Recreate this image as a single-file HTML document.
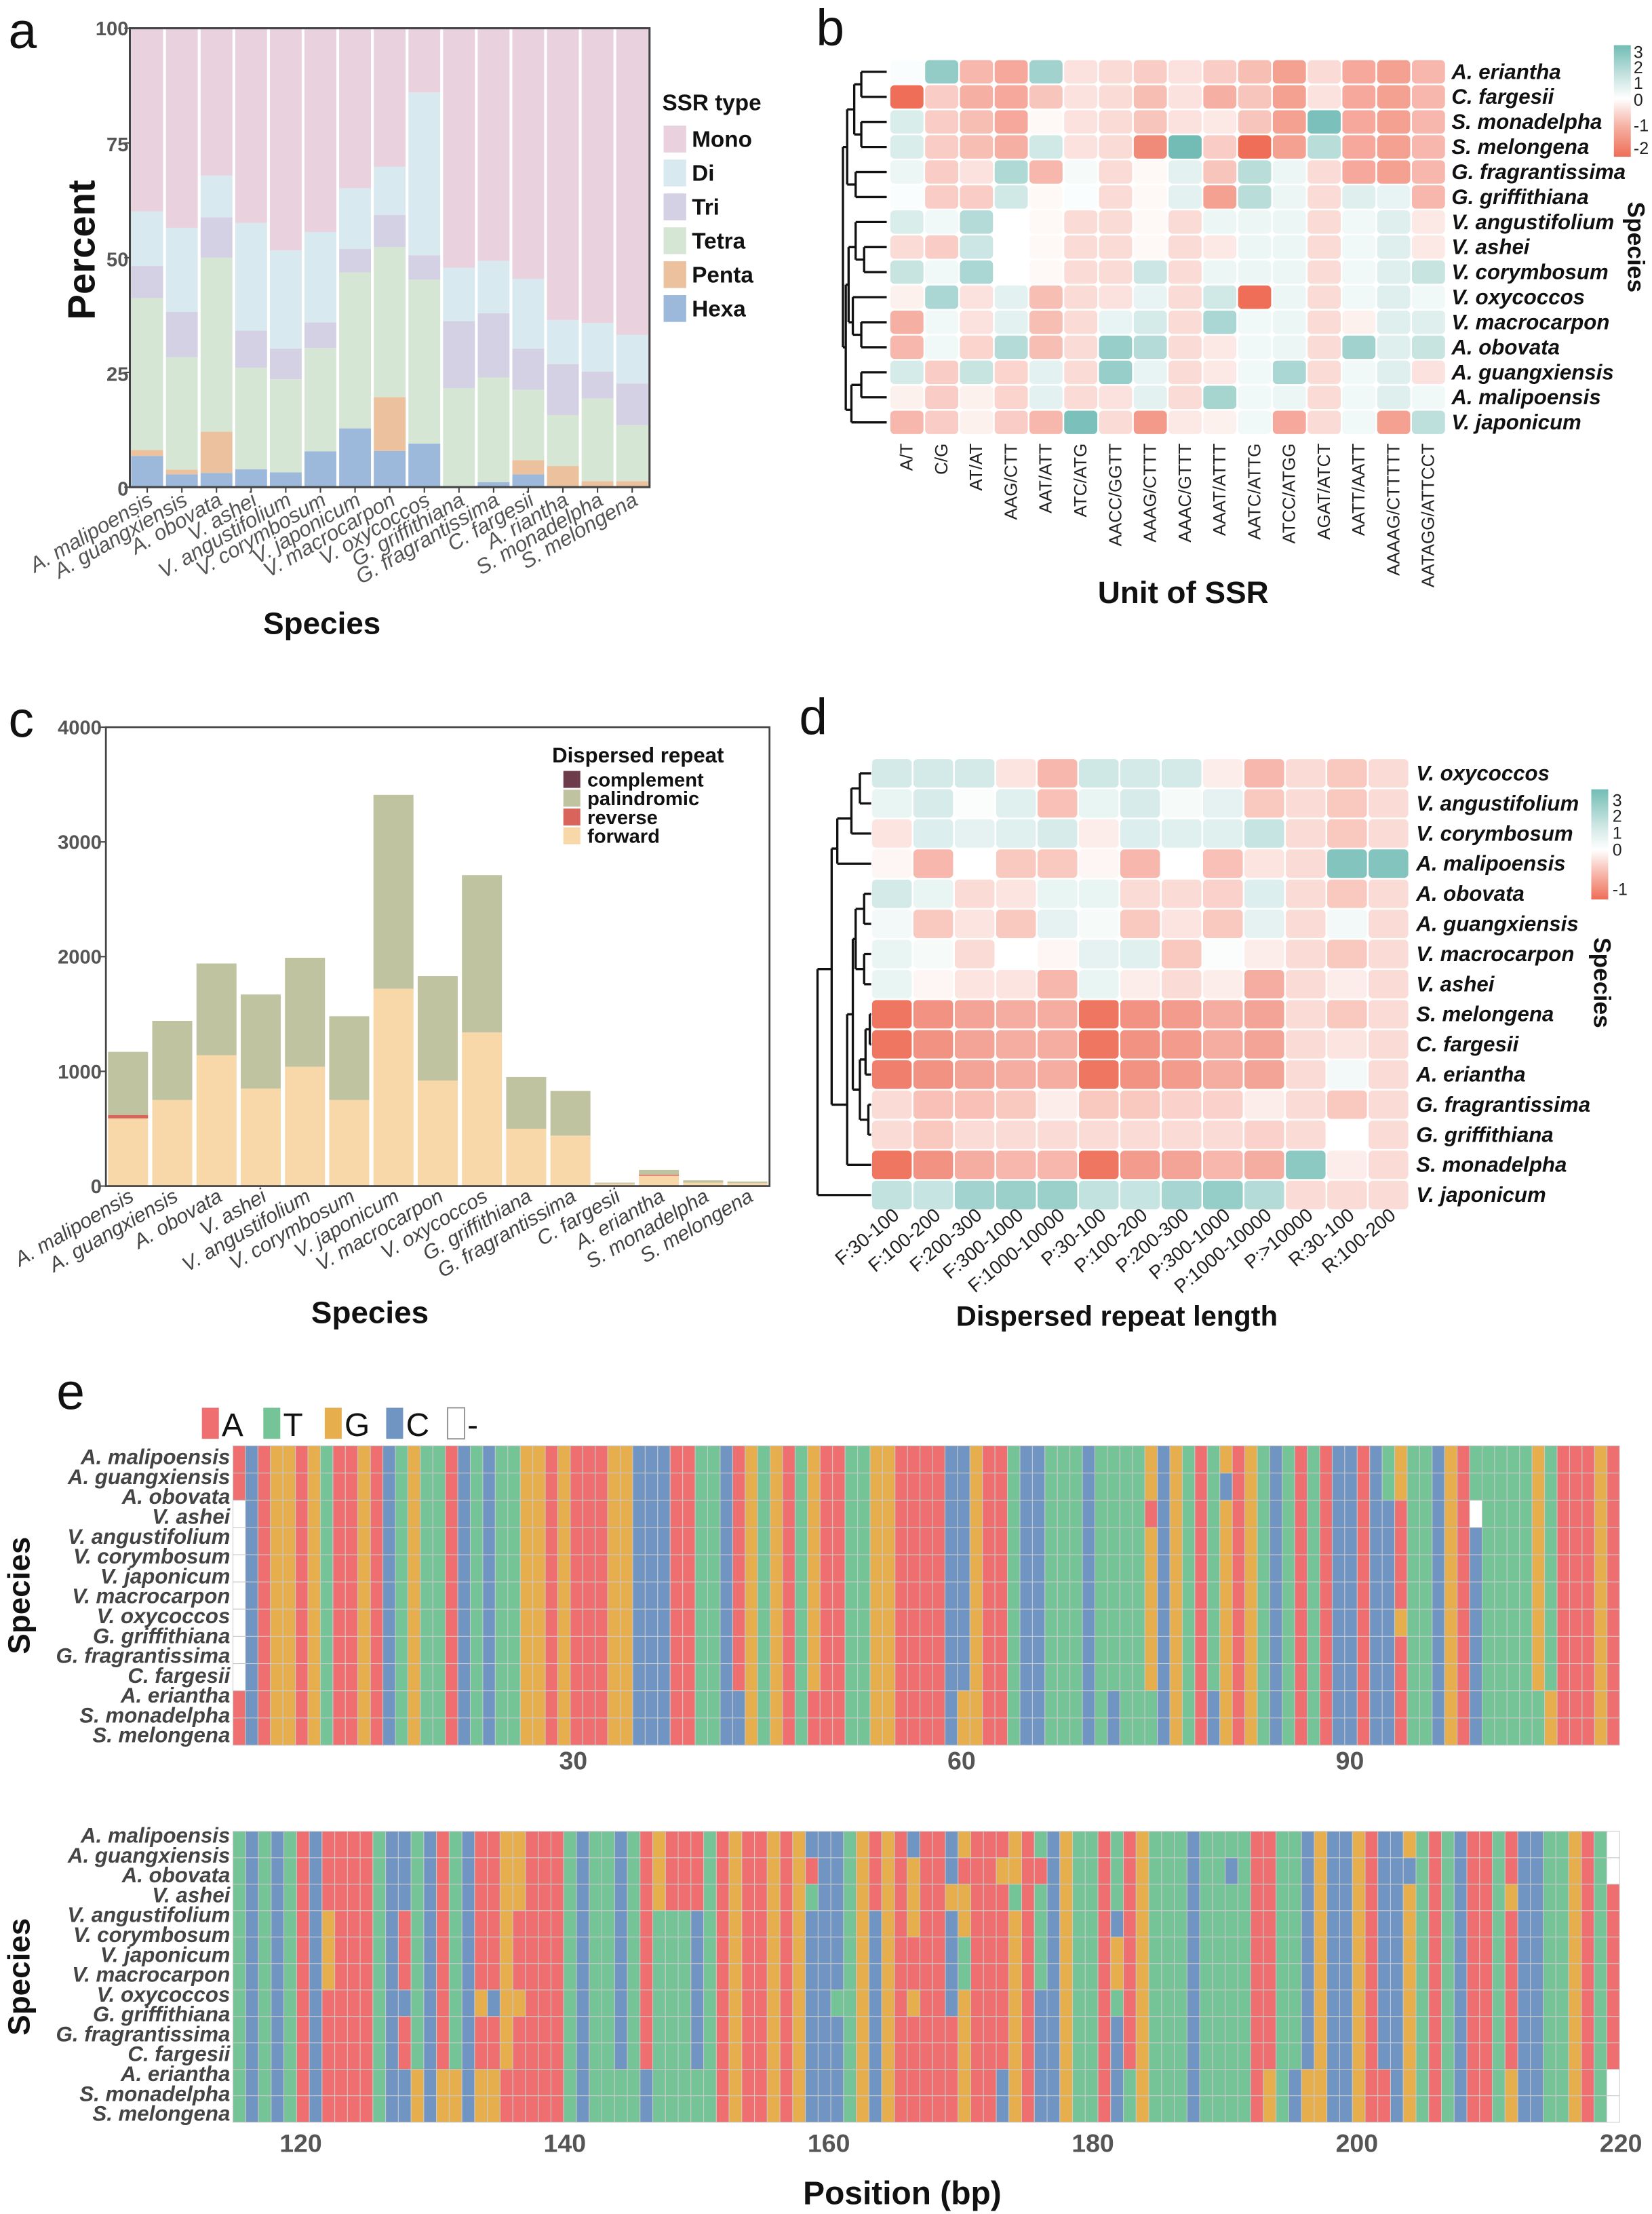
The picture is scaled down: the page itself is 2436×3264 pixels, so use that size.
<!DOCTYPE html>
<html><head><meta charset="utf-8"><title>SSR and dispersed repeat figure</title>
<style>
html,body{margin:0;padding:0;background:#fff;}
svg{display:block;}
text{font-family:"Liberation Sans",sans-serif;}
.nar{font-family:"Liberation Sans Narrow","Liberation Sans",sans-serif;}
</style></head>
<body>
<svg id="fig" xmlns="http://www.w3.org/2000/svg" width="2436" height="3264" viewBox="0 0 1170 1568" preserveAspectRatio="none"></svg>
<script>
// ---------- Panel a data ----------
const aSpecies = ["A. malipoensis","A. guangxiensis","A. obovata","V. ashei","V. angustifolium","V. corymbosum","V. japonicum","V. macrocarpon","V. oxycoccos","G. griffithiana","G. fragrantissima","C. fargesii","A. riantha","S. monadelpha","S. melongena"];
const aTypes = ["Hexa","Penta","Tetra","Tri","Di","Mono"];
const aHexa  = [6.8,2.8,3.1,3.9,3.2,7.8,12.8,7.9,9.5,0,1.1,2.8,0,0,0];
const aPenta = [1.3,1.0,9.0,0,0,0,0,11.7,0,0,0,3.1,4.6,1.3,1.3];
const aTetra = [33.1,24.5,37.9,22.1,20.3,22.5,34.0,32.7,35.7,21.6,22.8,15.3,11.1,18.0,12.2];
const aTri   = [7.0,9.9,8.8,8.1,6.7,5.6,5.1,7.0,5.3,14.6,14.0,9.0,11.1,5.9,9.1];
const aDi    = [11.9,18.3,9.1,23.5,21.4,19.7,13.2,10.5,35.5,11.6,11.4,15.2,9.6,10.6,10.6];
const aMono  = [39.9,43.5,32.1,42.4,48.4,44.4,34.9,30.2,14.0,52.2,50.7,54.6,63.6,64.2,66.8];
const aTicks = [0,25,50,75,100];
const aColors = {Mono:"#e9d1de",Di:"#d8e9ef",Tri:"#d5d1e4",Tetra:"#d6e6d5",Penta:"#ecc29e",Hexa:"#9cb8da"};

// ---------- Panel b data ----------
const bUnits = ["A/T","C/G","AT/AT","AAG/CTT","AAT/ATT","ATC/ATG","AACC/GGTT","AAAG/CTTT","AAAC/GTTT","AAAT/ATTT","AATC/ATTG","ATCC/ATGG","AGAT/ATCT","AATT/AATT","AAAAG/CTTTTT","AATAGG/ATTCCT"];
const bSpecies = ["A. eriantha","C. fargesii","S. monadelpha","S. melongena","G. fragrantissima","G. griffithiana","V. angustifolium","V. ashei","V. corymbosum","V. oxycoccos","V. macrocarpon","A. obovata","A. guangxiensis","A. malipoensis","V. japonicum"];
const bValues = [
[0.1,2.3,-1,-1.2,2,-0.4,-0.5,-0.7,-0.4,-0.7,-0.9,-1.3,-0.5,-1.2,-1.3,-1],
[-2,-0.7,-1.1,-1.2,-0.8,-0.4,-0.5,-0.9,-0.4,-1.1,-0.8,-1.3,-0.4,-1.2,-1.3,-1],
[0.8,-0.7,-0.9,-1.2,-0.1,-0.4,-0.5,-0.8,-0.4,-0.3,-0.8,-1.3,2.8,-1.2,-1.3,-1],
[0.8,-0.7,-0.9,-1.1,1,-0.4,-0.5,-1.6,3,-0.7,-2,-1.3,1.5,-1.2,-1.3,-1],
[0.4,-0.7,-0.4,1.7,-1,0.2,-0.5,-0.1,0.6,-0.8,1.5,0.4,-0.5,-1.2,-1.3,-1],
[0.1,-0.7,-0.7,1,-0.1,0.1,-0.5,-0.1,0.6,-1.3,1.5,0.4,-0.5,0.7,0.5,-1],
[0.8,0.3,1.6,0,-0.1,-0.5,-0.5,-0.1,-0.5,0.4,0.4,0.4,-0.5,0.3,0.7,-0.3],
[-0.5,-0.7,1.1,0,-0.1,-0.5,-0.5,-0.1,-0.5,-0.3,0.4,0.4,-0.5,0.3,0.7,-0.3],
[1.2,0.3,1.8,0,-0.1,-0.5,-0.5,1.1,-0.5,0.4,0.4,0.4,-0.5,0.3,0.7,1.2],
[-0.2,1.8,-0.4,0.6,-0.9,-0.5,-0.4,0.5,-0.5,1,-2,0.4,-0.5,0.3,0.7,0.3],
[-1.1,0.3,-0.4,0.6,-0.9,-0.5,0.5,0.9,-0.5,1.8,0.3,0.4,-0.5,-0.2,0.7,0.7],
[-1,0.3,-0.6,1.6,-0.9,-0.5,2.2,1.6,-0.5,-0.3,0.3,0.4,-0.5,2,0.7,1.2],
[0.9,-0.7,1.2,-0.6,0.6,-0.5,2.2,0.5,-0.5,-0.3,0.3,1.8,-0.5,0.3,0.7,-0.4],
[-0.2,-0.7,-0.2,-0.6,0.6,-0.5,-0.4,0.6,-0.5,1.9,0.3,0.4,-0.5,0.3,0.7,0.3],
[-1,-0.7,-0.2,-0.7,-1,2.8,-0.5,-1.4,-0.3,-0.2,0.3,-1.2,-0.5,0.3,-1.3,1.4]];
const bLegendTicks = [3,2,1,0,-1,-2];

// ---------- Panel c data ----------
const cSpecies = ["A. malipoensis","A. guangxiensis","A. obovata","V. ashei","V. angustifolium","V. corymbosum","V. japonicum","V. macrocarpon","V. oxycoccos","G. griffithiana","G. fragrantissima","C. fargesii","A. eriantha","S. monadelpha","S. melongena"];
const cForward     = [590,750,1140,850,1040,750,1720,920,1340,500,440,20,90,30,25];
const cReverse     = [30,0,0,0,0,0,0,0,0,0,0,0,10,0,0];
const cPalindromic = [550,690,800,820,950,730,1690,910,1370,450,390,10,40,20,15];
const cComplement  = [0,0,0,0,0,0,0,0,0,0,0,0,0,0,0];
const cTicks = [0,1000,2000,3000,4000];

// ---------- Panel d data ----------
const dCats = ["F:30-100","F:100-200","F:200-300","F:300-1000","F:1000-10000","P:30-100","P:100-200","P:200-300","P:300-1000","P:1000-10000","P:>10000","R:30-100","R:100-200"];
const dSpecies = ["V. oxycoccos","V. angustifolium","V. corymbosum","A. malipoensis","A. obovata","A. guangxiensis","V. macrocarpon","V. ashei","S. melongena","C. fargesii","A. eriantha","G. fragrantissima","G. griffithiana","S. monadelpha","V. japonicum"];
const dValues = [
[1,1,1,-0.3,-0.8,1.1,1,1,-0.2,-0.8,-0.4,-0.6,-0.4],
[0.5,0.9,0.1,0.7,-0.7,0.5,0.9,0.2,0.6,-0.6,-0.4,-0.6,-0.4],
[-0.3,0.8,0.6,0.7,0.9,-0.2,0.8,0.7,0.7,1.3,-0.4,-0.6,-0.4],
[-0.1,-0.8,0,-0.6,-0.6,-0.1,-0.8,0,-0.7,-0.3,-0.4,2.8,2.8],
[1,0.5,-0.4,-0.3,0.5,0.5,-0.4,-0.4,-0.5,0.8,-0.4,-0.6,-0.4],
[0.3,-0.6,-0.3,-0.6,0.6,0.2,-0.6,-0.3,-0.6,0.6,-0.4,0.3,-0.4],
[0.5,0.2,-0.4,0,-0.1,0.6,0.7,-0.6,0.1,-0.2,-0.4,-0.6,-0.4],
[0.5,-0.1,-0.3,-0.3,-0.8,0.5,-0.2,-0.4,-0.2,-0.9,-0.4,-0.2,-0.4],
[-1.5,-1.2,-1,-0.9,-0.9,-1.5,-1.2,-1.1,-0.9,-1,-0.4,-0.6,-0.4],
[-1.5,-1.2,-1,-0.9,-0.9,-1.5,-1.2,-1.1,-0.9,-1,-0.4,-0.3,-0.4],
[-1.4,-1.2,-1,-0.9,-0.9,-1.5,-1.2,-1.1,-0.9,-1,-0.4,0.3,-0.4],
[-0.4,-0.7,-0.7,-0.6,-0.2,-0.6,-0.6,-0.5,-0.5,-0.2,-0.4,-0.6,-0.4],
[-0.4,-0.6,-0.4,-0.4,-0.4,-0.4,-0.4,-0.4,-0.4,-0.5,-0.4,0,-0.4],
[-1.5,-1.2,-0.9,-0.8,-0.8,-1.5,-1.1,-1,-0.8,-0.9,2.6,-0.2,-0.4],
[1.4,1.3,2.1,2.3,2.3,1.4,1.3,2,2.4,1.7,-0.4,-0.4,-0.4]];
const dLegendTicks = [3,2,1,0,-1];

// ---------- Panel e data ----------
const eSpecies = ["A. malipoensis","A. guangxiensis","A. obovata","V. ashei","V. angustifolium","V. corymbosum","V. japonicum","V. macrocarpon","V. oxycoccos","G. griffithiana","G. fragrantissima","C. fargesii","A. eriantha","S. monadelpha","S. melongena"];
const eTopConsensus = "ACAGGAGTAAGACTGTTACTCTTGGAGAAAGGCCCAATTCAGTGATGAATTGGAAA"+"ACCGAATCCTTTCTTTTGCGTATGAGTCTATACCACTGTTCGATTTTTGTAAAGA";
const eBotConsensus = "TCTCTACAAAATCCTCATCAAGGAAATCTTCTAGAAATAGAAGAGCCCTGAGACA"+"ACGAAAGATCGTTATAGTTTCTTTTAATTCGCCGACCGTATCAATACCTTGAT-";
const eTopOverrides = [[2,8,0,"-"],[9,10,40,"C"],[9,10,46,"A"],[9,10,58,"G"],[1,1,79,"C"],[2,2,73,"A"],[9,10,73,"T"],[9,10,70,"C"],[9,10,78,"C"],[2,10,92,"C"],[2,5,93,"A"],[7,10,93,"A"],[2,2,99,"-"],[3,10,99,"C"],[9,10,104,"T"],[9,10,105,"G"]];
const eBotOverrides = [[1,1,45,"A"],[2,2,45,"T"],[1,3,53,"G"],[6,6,53,"G"],[4,5,53,"A"],[7,10,53,"A"],[3,10,50,"C"],[3,5,7,"G"],[3,5,13,"A"],[7,8,13,"A"],[9,10,21,"A"],[3,5,22,"A"],[7,10,22,"A"],[6,6,19,"G"],[9,10,19,"G"],[6,6,20,"C"],[9,10,20,"G"],[9,10,14,"G"],[9,10,16,"G"],[9,10,17,"G"],[9,10,30,"T"],[9,10,32,"C"],[3,10,33,"T"],[3,10,34,"T"],[3,10,35,"T"],[3,8,36,"C"],[9,10,36,"T"],[6,6,47,"T"],[2,8,108,"A"],
[1,1,57,"A"],[1,1,60,"G"],[1,1,63,"A"],[1,1,78,"C"],[1,1,92,"C"],[2,2,56,"G"],[2,2,61,"T"],[2,2,100,"G"],[3,3,69,"C"],[4,5,57,"T"],[4,5,69,"G"],[7,8,56,"A"],[7,8,63,"C"],[7,8,69,"C"],[6,6,63,"C"],[9,10,56,"A"],[9,10,60,"C"],[9,10,63,"C"],[9,10,69,"C"],[9,10,70,"T"],[9,10,81,"G"],[9,10,83,"C"],[9,10,84,"G"],[9,10,90,"A"],[9,10,100,"G"]];
const eTopTicks = [30,60,90];
const eBotTicks = [120,140,160,180,200,220];
const eBases = ["A","T","G","C","-"];
const eColors = {A:"#ef6f70",T:"#74c498",G:"#e6ae4d",C:"#7095c3","-":"#ffffff"};

// ---------- helpers ----------
const NS = "http://www.w3.org/2000/svg";
const svg = document.getElementById("fig");
function add(parent, tag, attrs){ const e=document.createElementNS(NS,tag); for(const k in attrs) e.setAttribute(k, attrs[k]); parent.appendChild(e); return e; }
function txt(parent, x, y, s, attrs){ const e=add(parent,"text",Object.assign({x:x,y:y},attrs||{})); e.textContent=s; return e; }
function grp(name){ const g=add(svg,"g",{}); 
  
  return g; }
function mix(c1,c2,t){ return "rgb("+c1.map((v,i)=>Math.round(v+(c2[i]-v)*t)).join(",")+")"; }
const TEAL=[114,188,181], RED=[238,110,88], WHITE=[255,255,255];
function heat(v,vmin,vmax){ if(v>=0) return mix(WHITE,TEAL,Math.min(1,v/vmax)); return mix(WHITE,RED,Math.min(1,v/vmin)); }

// ---------- panel labels ----------
[["a",6,34],["b",578,32],["c",6,522],["d",566,520],["e",40,998]].forEach(p=>{
  const t=txt(svg,p[1],p[2],p[0],{"font-size":36,fill:"#111"});
  
  
});

// ================= Panel a =================
(function(){
  const g=grp("panel-a-ssr-stacked-bar");
  const X0=92,X1=460,Y0=345,Y1=20;
  const step=(X1-X0)/aSpecies.length;
  const y=v=>Y0-(v/100)*(Y0-Y1);
  const series=[aHexa,aPenta,aTetra,aTri,aDi,aMono];
  aSpecies.forEach((s,i)=>{
    let cum=0;
    series.forEach((arr,k)=>{
      const v=arr[i]; if(v<=0) return;
      const r=add(g,"rect",{x:X0+i*step+1,y:y(cum+v),width:step-2,height:y(cum)-y(cum+v),fill:aColors[aTypes[k]]});
      
      
      cum+=v;
    });
    const cx=X0+(i+0.5)*step;
    const tk=add(g,"line",{x1:cx,x2:cx,y1:Y0,y2:Y0+4,stroke:"#444","stroke-width":1});
    
    
    const lb=txt(g,0,0,s,{"font-size":15,"font-style":"italic",fill:"#555","text-anchor":"end",transform:"translate("+(cx+5)+","+(Y0+12)+") rotate(-30)"});
    
    
  });
  const fr=add(g,"rect",{x:X0,y:Y1,width:X1-X0,height:Y0-Y1,fill:"none",stroke:"#444","stroke-width":1.5});
  
  
  aTicks.forEach(t=>{
    const l=add(g,"line",{x1:X0-4,x2:X0,y1:y(t),y2:y(t),stroke:"#444"});
    
    
    const tt=txt(g,X0-1,y(t)+(t==100?5:6),String(t),{"font-size":14,"font-weight":"bold",fill:"#555","text-anchor":"end",class:"nar"});
    
    
  });
  const yt=txt(g,0,0,"Percent",{"font-size":27,"font-weight":"bold",fill:"#111","text-anchor":"middle",transform:"translate(67,177) rotate(-90)"});
  
  
  const xt=txt(g,228,449,"Species",{"font-size":22,"font-weight":"bold",fill:"#111","text-anchor":"middle"});
  
  
  const lt=txt(g,469,78,"SSR type",{"font-size":16,"font-weight":"bold",fill:"#111",class:"nar"});
  
  
  ["Mono","Di","Tri","Tetra","Penta","Hexa"].forEach((t,i)=>{
    const yy=89+i*24;
    const sq=add(g,"rect",{x:470,y:yy,width:16,height:19,fill:aColors[t]});
    
    
    const lb=txt(g,490,yy+15,t,{"font-size":16,"font-weight":"bold",fill:"#111",class:"nar"});
    
    
  });
})();

// ================= Panel b =================
(function(){
  const g=grp("panel-b-ssr-heatmap");
  const X0=630,X1=1024,Y0=42,Y1=308;
  const cw=(X1-X0)/bUnits.length, rh=(Y1-Y0)/bSpecies.length;
  bValues.forEach((row,i)=>row.forEach((v,j)=>{
    const c=add(g,"rect",{x:X0+j*cw+0.6,y:Y0+i*rh+0.6,width:cw-1.2,height:rh-1.2,rx:3,fill:heat(v,-2,3)});
    
    
  }));
  bSpecies.forEach((s,i)=>{
    const t=txt(g,1028,Y0+(i+0.5)*rh+5,s,{"font-size":15,"font-weight":"bold","font-style":"italic",fill:"#111",class:"nar"});
    
    
  });
  bUnits.forEach((u,j)=>{
    const cx=X0+(j+0.5)*cw;
    const t=txt(g,0,0,u,{"font-size":12.5,fill:"#222","text-anchor":"end",class:"nar",transform:"translate("+(cx+4)+",314) rotate(-90)"});
    
    
  });
  const xt=txt(g,838,427,"Unit of SSR",{"font-size":22,"font-weight":"bold",fill:"#111","text-anchor":"middle"});
  
  
  const st=txt(g,0,0,"Species",{"font-size":17,"font-weight":"bold",fill:"#111","text-anchor":"middle",transform:"translate(1153,175) rotate(90)"});
  
  
  const rc=i=>Y0+(i+0.5)*rh;
  const d="M628,"+rc(0)+"H610M628,"+rc(1)+"H610M610,"+rc(0)+"V"+rc(1)+
    "M628,"+rc(2)+"H610M628,"+rc(3)+"H610M610,"+rc(2)+"V"+rc(3)+
    "M610,"+(rc(0)+rc(1))/2+"H605M610,"+(rc(2)+rc(3))/2+"H605M605,"+(rc(0)+rc(1))/2+"V"+(rc(2)+rc(3))/2+
    "M628,"+rc(4)+"H606M628,"+rc(5)+"H606M606,"+rc(4)+"V"+rc(5)+
    "M605,"+(rc(1)+rc(2))/2+"H600M606,"+(rc(4)+rc(5))/2+"H600M600,"+(rc(1)+rc(2))/2+"V"+(rc(4)+rc(5))/2+
    "M628,"+rc(7)+"H612M628,"+rc(8)+"H612M612,"+rc(7)+"V"+rc(8)+
    "M628,"+rc(6)+"H606M612,"+(rc(7)+rc(8))/2+"H606M606,"+rc(6)+"V"+(rc(7)+rc(8))/2+
    "M628,"+rc(10)+"H610M628,"+rc(11)+"H610M610,"+rc(10)+"V"+rc(11)+
    "M628,"+rc(9)+"H604M610,"+(rc(10)+rc(11))/2+"H604M604,"+rc(9)+"V"+(rc(10)+rc(11))/2+
    "M606,"+(rc(6)+rc(8))/2+"H601M604,"+(rc(9)+rc(11))/2+"H601M601,"+(rc(6)+rc(8))/2+"V"+(rc(9)+rc(11))/2+
    "M628,"+rc(12)+"H610M628,"+rc(13)+"H610M610,"+rc(12)+"V"+rc(13)+
    "M628,"+rc(14)+"H603M610,"+(rc(12)+rc(13))/2+"H603M603,"+(rc(12)+rc(13))/2+"V"+rc(14)+
    "M601,"+(rc(7)+rc(10))/2+"H599M603,"+(rc(13)+rc(14))/2+"H599M599,"+(rc(7)+rc(10))/2+"V"+(rc(13)+rc(14))/2+
    "M600,"+(rc(2)+rc(4))/2+"H597M599,"+(rc(9)+rc(13))/2+"H597M597,"+(rc(2)+rc(4))/2+"V"+(rc(9)+rc(13))/2;
  const p=add(g,"path",{d:d,fill:"none",stroke:"#111","stroke-width":1.6});
  
  
  const defs=add(svg,"defs",{});
  const lg=add(defs,"linearGradient",{id:"gb",x1:0,y1:0,x2:0,y2:1});
  [[0,"#72bcb5"],[0.3,"#cfe7e4"],[0.48,"#ffffff"],[0.72,"#f6b3a6"],[1,"#ee6e58"]].forEach(s=>add(lg,"stop",{offset:s[0],"stop-color":s[1]}));
  const cb=add(g,"rect",{x:1143,y:32,width:12,height:79,fill:"url(#gb)"});
  
  
  const pos={3:37,2:48,1:59,0:71,"-1":89,"-2":105};
  bLegendTicks.forEach(t=>{
    const tt=txt(g,1157,pos[t]+4,String(t),{"font-size":12,fill:"#222",class:"nar"});
    
    
  });
})();

// ================= Panel c =================
(function(){
  const g=grp("panel-c-dispersed-repeat-bar");
  const X0=75,X1=545,Y0=840,Y1=515;
  const step=(X1-X0)/cSpecies.length;
  const y=v=>Y0-(v/4000)*(Y0-Y1);
  const cols={forward:"#f8d7a8",reverse:"#d9645b",palindromic:"#bfc3a0",complement:"#6e3b4a"};
  const ser=[["forward",cForward],["reverse",cReverse],["palindromic",cPalindromic],["complement",cComplement]];
  cSpecies.forEach((s,i)=>{
    let cum=0;
    ser.forEach(sr=>{
      const v=sr[1][i]; if(v<=0) return;
      const r=add(g,"rect",{x:X0+i*step+1.5,y:y(cum+v),width:step-3,height:y(cum)-y(cum+v),fill:cols[sr[0]]});
      
      
      cum+=v;
    });
    const cx=X0+(i+0.5)*step;
    const lb=txt(g,0,0,s,{"font-size":14.5,"font-style":"italic",fill:"#444","text-anchor":"end",transform:"translate("+(cx+5)+","+(Y0+10)+") rotate(-30)"});
    
    
  });
  const fr=add(g,"rect",{x:X0,y:Y1,width:X1-X0,height:Y0-Y1,fill:"none",stroke:"#444","stroke-width":1.3});
  
  
  cTicks.forEach(t=>{
    const l=add(g,"line",{x1:X0-4,x2:X0,y1:y(t),y2:y(t),stroke:"#444"});
    
    
    const tt=txt(g,X0-3,y(t)+5,String(t),{"font-size":14,"font-weight":"bold",fill:"#555","text-anchor":"end",class:"nar"});
    
    
  });
  const xt=txt(g,262,937,"Species",{"font-size":22,"font-weight":"bold",fill:"#111","text-anchor":"middle"});
  
  
  const lt=txt(g,391,540,"Dispersed repeat",{"font-size":15,"font-weight":"bold",fill:"#111"});
  
  
  ["complement","palindromic","reverse","forward"].forEach((k,i)=>{
    const yy=546+i*13.3;
    const sq=add(g,"rect",{x:399,y:yy,width:12,height:12,fill:cols[k]});
    
    
    const lb=txt(g,416,yy+11,k,{"font-size":14,"font-weight":"bold",fill:"#111"});
    
    
  });
})();

// ================= Panel d =================
(function(){
  const g=grp("panel-d-dispersed-heatmap");
  const X0=617,X1=998,Y0=537,Y1=857;
  const cw=(X1-X0)/dCats.length, rh=(Y1-Y0)/dSpecies.length;
  dValues.forEach((row,i)=>row.forEach((v,j)=>{
    const c=add(g,"rect",{x:X0+j*cw+0.6,y:Y0+i*rh+0.6,width:cw-1.2,height:rh-1.2,rx:3,fill:heat(v,-1.6,3.2)});
    
    
  }));
  dSpecies.forEach((s,i)=>{
    const t=txt(g,1003,Y0+(i+0.5)*rh+5,s,{"font-size":15,"font-weight":"bold","font-style":"italic",fill:"#111",class:"nar"});
    
    
  });
  dCats.forEach((u,j)=>{
    const cx=X0+(j+0.5)*cw;
    const t=txt(g,0,0,u,{"font-size":13.5,fill:"#222","text-anchor":"end",class:"nar",transform:"translate("+(cx+6)+",862) rotate(-40)"});
    
    
  });
  const xt=txt(g,791,939,"Dispersed repeat length",{"font-size":20,"font-weight":"bold",fill:"#111","text-anchor":"middle"});
  
  
  const st=txt(g,0,0,"Species",{"font-size":17,"font-weight":"bold",fill:"#111","text-anchor":"middle",transform:"translate(1129,696) rotate(90)"});
  
  
  const rc=i=>Y0+(i+0.5)*rh;
  const m=(a,b)=>(a+b)/2;
  const d="M617,"+rc(0)+"H609M617,"+rc(1)+"H609M609,"+rc(0)+"V"+rc(1)+
    "M617,"+rc(2)+"H603M609,"+m(rc(0),rc(1))+"H603M603,"+m(rc(0),rc(1))+"V"+rc(2)+
    "M617,"+rc(3)+"H593M603,"+m(rc(1),rc(2))+"H593M593,"+m(rc(1),rc(2))+"V"+rc(3)+
    "M617,"+rc(4)+"H612M617,"+rc(5)+"H612M612,"+rc(4)+"V"+rc(5)+
    "M617,"+rc(6)+"H612M617,"+rc(7)+"H612M612,"+rc(6)+"V"+rc(7)+
    "M612,"+m(rc(4),rc(5))+"H606M612,"+m(rc(6),rc(7))+"H606M606,"+m(rc(4),rc(5))+"V"+m(rc(6),rc(7))+
    "M617,"+rc(8)+"H616M617,"+rc(9)+"H616M616,"+rc(8)+"V"+rc(9)+
    "M617,"+rc(10)+"H613M616,"+m(rc(8),rc(9))+"H613M613,"+m(rc(8),rc(9))+"V"+rc(10)+
    "M617,"+rc(11)+"H615M617,"+rc(12)+"H615M615,"+rc(11)+"V"+rc(12)+
    "M613,"+m(rc(9),rc(10))+"H609M615,"+m(rc(11),rc(12))+"H609M609,"+m(rc(9),rc(10))+"V"+m(rc(11),rc(12))+
    "M606,"+m(rc(5),rc(6))+"H604M609,"+m(rc(10),rc(11))+"H604M604,"+m(rc(5),rc(6))+"V"+m(rc(10),rc(11))+
    "M617,"+rc(13)+"H600M604,"+m(rc(7),rc(9))+"H600M600,"+m(rc(7),rc(9))+"V"+rc(13)+
    "M593,"+m(rc(2),rc(3))+"H589M600,"+m(rc(10),rc(12))+"H589M589,"+m(rc(2),rc(3))+"V"+m(rc(10),rc(12))+
    "M617,"+rc(14)+"H579M589,"+m(rc(6),rc(7))+"H579M579,"+m(rc(6),rc(7))+"V"+rc(14);
  const p=add(g,"path",{d:d,fill:"none",stroke:"#111","stroke-width":1.6});
  
  
  const defs=add(svg,"defs",{});
  const lg=add(defs,"linearGradient",{id:"gd",x1:0,y1:0,x2:0,y2:1});
  [[0,"#72bcb5"],[0.35,"#d3e9e6"],[0.55,"#ffffff"],[0.8,"#f5ad9f"],[1,"#ee6e58"]].forEach(s=>add(lg,"stop",{offset:s[0],"stop-color":s[1]}));
  const cb=add(g,"rect",{x:1127,y:559,width:12,height:78,fill:"url(#gd)"});
  
  
  const pos={3:567,2:578,1:590,0:602,"-1":630};
  dLegendTicks.forEach(t=>{
    const tt=txt(g,1142,pos[t]+4,String(t),{"font-size":12,fill:"#222",class:"nar"});
    
    
  });
})();

// ================= Panel e =================
function alignment(name, cons, overrides, X0, X1, Y0, Y1, nRows, labelY0, labelY1){
  const g=grp(name);
  const n=cons.length, cw=(X1-X0)/n, rh=(Y1-Y0)/nRows;
  const rows=[];
  for(let r=0;r<nRows;r++) rows.push(cons.split(""));
  overrides.forEach(o=>{ for(let r=o[0];r<=o[1];r++) rows[r][o[2]]=o[3]; });
  rows.forEach((row,r)=>row.forEach((b,c)=>{
    const cell=add(g,"rect",{x:X0+c*cw,y:Y0+r*rh,width:cw,height:rh,fill:eColors[b],stroke:"#c9c9c9","stroke-width":0.5});
    
    
  }));
  eSpecies.forEach((s,i)=>{
    const t=txt(g,163,labelY0+i*(labelY1-labelY0)/(eSpecies.length-1)+5,s,{"font-size":15,"font-weight":"bold","font-style":"italic",fill:"#444","text-anchor":"end"});
    
    
  });
  const yt=txt(g,0,0,"Species",{"font-size":22,"font-weight":"bold",fill:"#111","text-anchor":"middle",transform:"translate(21,"+((Y0+Y1)/2)+") rotate(-90)"});
  
  
  return g;
}
(function(){
  const g1=alignment("panel-e-alignment-top",eTopConsensus,eTopOverrides,165,1147,1024,1236,11,1032,1229);
  const xp1=p=>406+(p-30)*9.167;
  eTopTicks.forEach(t=>{
    const tt=txt(g1,xp1(t),1253,String(t),{"font-size":18,"font-weight":"bold",fill:"#555","text-anchor":"middle"});
    
    
  });
  const g2=alignment("panel-e-alignment-bottom",eBotConsensus,eBotOverrides,165,1147,1297,1503,11,1300,1497);
  const xp2=p=>213+(p-120)*9.35;
  eBotTicks.forEach(t=>{
    const tt=txt(g2,xp2(t),1524,String(t),{"font-size":18,"font-weight":"bold",fill:"#555","text-anchor":"middle"});
    
    
  });
  const xt=txt(g2,639,1561,"Position (bp)",{"font-size":23,"font-weight":"bold",fill:"#111","text-anchor":"middle"});
  
  
  const lg=grp("panel-e-legend");
  eBases.forEach((b,i)=>{
    const x=143+i*43.5;
    const sq=add(lg,"rect",{x:x,y:997,width:12,height:22,fill:eColors[b],stroke:b==="-"?"#999":"none","stroke-width":1});
    
    
    const t=txt(lg,x+14,1017,b,{"font-size":23,fill:"#111"});
    
    
  });
})();
</script>
</body></html>
